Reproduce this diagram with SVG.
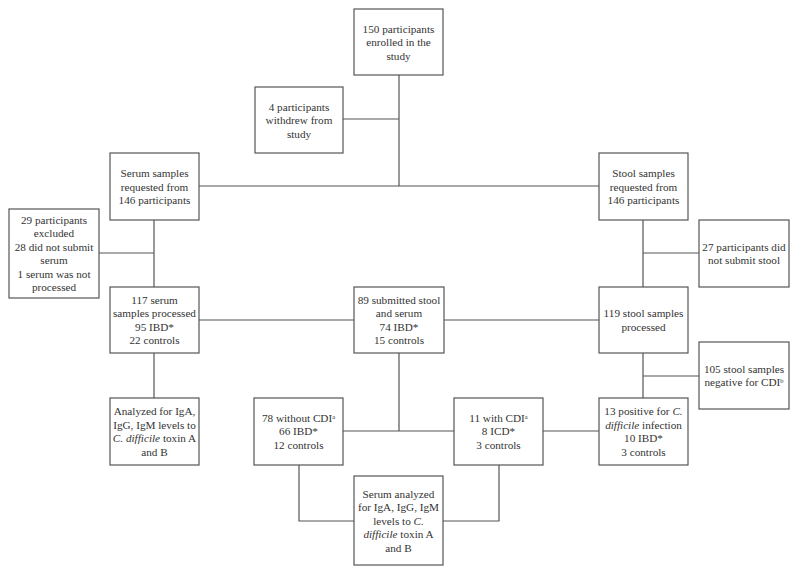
<svg xmlns="http://www.w3.org/2000/svg" width="800" height="577" viewBox="0 0 800 577">
<style>
rect.box{fill:#fff;stroke:#555;stroke-width:1.2}
#connectors path{fill:none;stroke:#555;stroke-width:1.2}
text{font-family:"Liberation Serif","Times New Roman",serif;font-size:11.2px;fill:#333;text-anchor:middle}
.i{font-style:italic}
.sup{font-size:6.5px;baseline-shift:super}
</style>
<rect width="800" height="577" fill="#fff"/>
<g id="connectors">
<path d="M399 75V186"/>
<path d="M343 119H399"/>
<path d="M199 186H599"/>
<path d="M154 220V287M99 253H154"/>
<path d="M643 220V287M643 253H699"/>
<path d="M199 320H354M444 320H599"/>
<path d="M154 353V398"/>
<path d="M643 353V398M643 376H699"/>
<path d="M399 353V431M343 431H454M543 431H599"/>
<path d="M299 465V521H354M499 465V521H443"/>
</g>
<g id="enrolled"><rect class="box" x="354" y="9" width="89" height="66"/>
<text x="398.5" y="32.5">150 participants</text><text x="398.5" y="46">enrolled in the</text><text x="398.5" y="59.5">study</text></g>
<g id="withdrew"><rect class="box" x="255" y="87" width="88" height="66"/>
<text x="299" y="110.5">4 participants</text><text x="299" y="124">withdrew from</text><text x="299" y="137.5">study</text></g>
<g id="serum-requested"><rect class="box" x="110" y="153" width="89" height="67"/>
<text x="154.5" y="177">Serum samples</text><text x="154.5" y="190.5">requested from</text><text x="154.5" y="204">146 participants</text></g>
<g id="stool-requested"><rect class="box" x="599" y="153" width="89" height="67"/>
<text x="643.5" y="177">Stool samples</text><text x="643.5" y="190.5">requested from</text><text x="643.5" y="204">146 participants</text></g>
<g id="excluded"><rect class="box" x="9" y="209" width="90" height="89"/>
<text x="54" y="223.5">29 participants</text><text x="54" y="237">excluded</text><text x="54" y="250.5">28 did not submit</text><text x="54" y="264">serum</text><text x="54" y="277.5">1 serum was not</text><text x="54" y="291">processed</text></g>
<g id="no-stool"><rect class="box" x="699" y="220" width="90" height="67"/>
<text x="744" y="250.5">27 participants did</text><text x="744" y="264">not submit stool</text></g>
<g id="serum-processed"><rect class="box" x="110" y="287" width="89" height="66"/>
<text x="154.5" y="303.5">117 serum</text><text x="154.5" y="317">samples processed</text><text x="154.5" y="330.5">95 IBD*</text><text x="154.5" y="344">22 controls</text></g>
<g id="submitted-both"><rect class="box" x="354" y="287" width="90" height="66"/>
<text x="399" y="303.5">89 submitted stool</text><text x="399" y="317">and serum</text><text x="399" y="330.5">74 IBD*</text><text x="399" y="344">15 controls</text></g>
<g id="stool-processed"><rect class="box" x="599" y="287" width="89" height="66"/>
<text x="643.5" y="317">119 stool samples</text><text x="643.5" y="330.5">processed</text></g>
<g id="negative"><rect class="box" x="699" y="342" width="90" height="67"/>
<text x="744" y="372.5">105 stool samples</text><text x="744" y="386">negative for CDI<tspan class="sup">b</tspan></text></g>
<g id="analyzed"><rect class="box" x="110" y="398" width="89" height="67"/>
<text x="154.5" y="415">Analyzed for IgA,</text><text x="154.5" y="428.5">IgG, IgM levels to</text><text x="154.5" y="442"><tspan class="i">C. difficile</tspan> toxin A</text><text x="154.5" y="455.5">and B</text></g>
<g id="without-cdi"><rect class="box" x="254" y="398" width="89" height="67"/>
<text x="298.5" y="421.5">78 without CDI<tspan class="sup">a</tspan></text><text x="298.5" y="435">66 IBD*</text><text x="298.5" y="448.5">12 controls</text></g>
<g id="with-cdi"><rect class="box" x="454" y="398" width="89" height="67"/>
<text x="498.5" y="421.5">11 with CDI<tspan class="sup">a</tspan></text><text x="498.5" y="435">8 ICD*</text><text x="498.5" y="448.5">3 controls</text></g>
<g id="positive"><rect class="box" x="599" y="398" width="89" height="67"/>
<text x="643.5" y="415">13 positive for <tspan class="i">C.</tspan></text><text x="643.5" y="428.5"><tspan class="i">difficile</tspan> infection</text><text x="643.5" y="442">10 IBD*</text><text x="643.5" y="455.5">3 controls</text></g>
<g id="serum-analyzed"><rect class="box" x="354" y="476" width="89" height="89"/>
<text x="398.5" y="497.5">Serum analyzed</text><text x="398.5" y="511">for IgA, IgG, IgM</text><text x="398.5" y="524.5">levels to <tspan class="i">C.</tspan></text><text x="398.5" y="538"><tspan class="i">difficile</tspan> toxin A</text><text x="398.5" y="551.5">and B</text></g>
</svg>
